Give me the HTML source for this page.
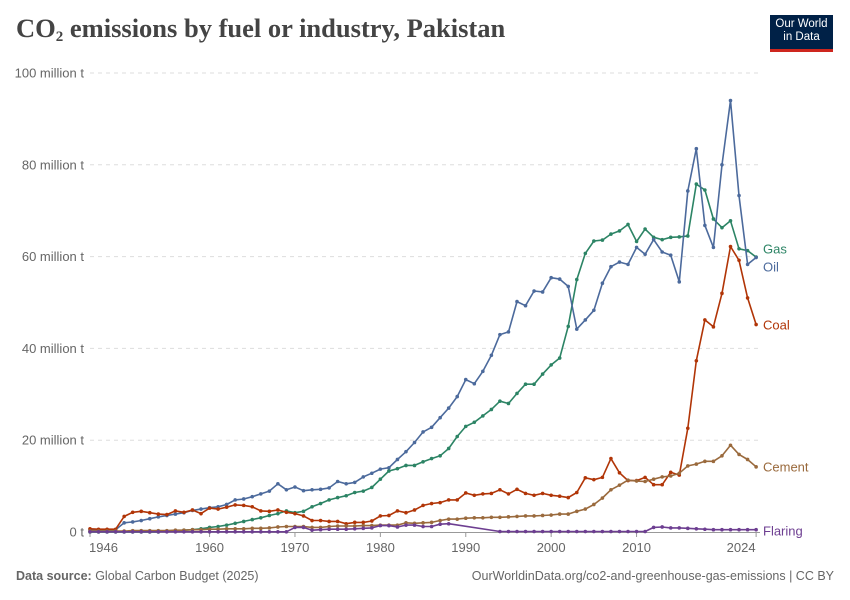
<!DOCTYPE html>
<html><head><meta charset="utf-8"><style>
body{margin:0;background:#fff;font-family:"Liberation Sans",sans-serif;}
#wrap{position:relative;width:850px;height:600px;overflow:hidden;}
</style></head><body>
<div id="wrap">
<div style="position:absolute;left:16px;top:13px;font-family:'Liberation Serif',serif;font-size:26.5px;font-weight:bold;color:#444;">CO<span style="font-size:15px;vertical-align:-4px">2</span> emissions by fuel or industry, Pakistan</div>
<div style="position:absolute;left:770px;top:15px;width:63px;height:37px;background:#002147;border-bottom:3px solid #ce261e;color:#fff;font-size:11.5px;line-height:13px;text-align:center;padding-top:3px;box-sizing:border-box;">Our World<br>in Data</div>
<svg id="chart" width="850" height="600" style="position:absolute;left:0;top:0"></svg>
<div style="position:absolute;left:16px;top:569px;font-size:12.5px;color:#666;"><b>Data source:</b> Global Carbon Budget (2025)</div>
<div style="position:absolute;right:16px;top:569px;font-size:12.5px;color:#666;">OurWorldinData.org/co2-and-greenhouse-gas-emissions | CC BY</div>
</div>
<script>
const startYear = 1946;
const xTicks = [1946, 1960, 1970, 1980, 1990, 2000, 2010, 2024];
const yTicks = [0, 20, 40, 60, 80, 100];
const yTickLabels = ["0 t", "20 million t", "40 million t", "60 million t", "80 million t", "100 million t"];
const seriesNames = ["Gas", "Oil", "Coal", "Cement", "Flaring"];
const oil = [0.5,0.5,0.5,0.5, 2.0,2.2,2.5,2.9,3.3,3.6,3.9,4.2,4.7,5.0,
 5.3,5.5,6.0,7.0,7.2,7.7,8.3,8.9,10.5,9.2,
 9.8,9.0,9.2,9.3,9.6,11.0,10.5,10.8,12.0,12.8,
 13.7,14.0,15.8,17.5,19.5,21.8,22.8,24.9,27.0,29.5,
 33.2,32.3,35.0,38.5,43.0,43.6,50.2,49.3,52.5,52.3,
 55.4,55.1,53.5,44.2,46.2,48.3,54.2,57.8,58.8,58.3,
 62.0,60.5,63.7,61.0,60.3,54.5,74.3,83.5,66.8,62.0,
 80.0,94.0,73.3,58.3,59.8];
const gas = [0,0,0,0,0,0,0,0,0,0.2,0.3,0.4,0.5,0.7,
 1.0,1.2,1.5,1.9,2.3,2.7,3.1,3.6,4.0,4.6,
 4.2,4.5,5.5,6.2,7.0,7.5,7.9,8.6,8.9,9.7,
 11.5,13.3,13.8,14.5,14.5,15.3,16.0,16.6,18.2,20.8,
 23.0,23.9,25.3,26.7,28.5,28.0,30.2,32.2,32.2,34.4,
 36.4,37.9,44.8,55.0,60.7,63.4,63.6,64.9,65.6,67.0,
 63.3,66.0,64.2,63.7,64.2,64.3,64.5,75.8,74.5,68.2,
 66.3,67.8,61.7,61.3,59.9];
const coal = [0.7,0.6,0.6,0.6, 3.4,4.3,4.5,4.2,3.9,3.8,4.6,4.3,4.8,4.0,
 5.2,5.0,5.4,5.9,5.8,5.5,4.6,4.5,4.8,4.3,
 4.0,3.5,2.5,2.5,2.3,2.3,1.8,2.1,2.1,2.4,
 3.5,3.6,4.6,4.2,4.8,5.8,6.2,6.4,7.0,7.0,
 8.5,8.0,8.3,8.4,9.2,8.3,9.3,8.4,8.0,8.4,
 8.0,7.8,7.5,8.6,11.8,11.4,11.9,16.0,12.9,11.2,
 11.2,11.9,10.3,10.3,13.0,12.4,22.6,37.3,46.2,44.7,
 52.0,62.2,59.2,51.0,45.2];
const cement = [0.2,0.2,0.2,0.2,0.2,0.3,0.3,0.3,0.3,0.3,0.4,0.4,0.5,0.5,
 0.6,0.6,0.7,0.7,0.7,0.8,0.8,0.9,1.1,1.2,
 1.2,1.2,1.0,1.0,1.2,1.3,1.3,1.3,1.4,1.4,
 1.5,1.5,1.5,2.0,1.9,2.0,2.1,2.5,2.8,2.8,
 3.0,3.1,3.1,3.2,3.2,3.3,3.4,3.5,3.5,3.6,
 3.7,3.9,3.9,4.5,5.0,6.0,7.4,9.2,10.2,11.3,
 11.1,11.0,11.5,12.0,12.2,12.8,14.4,14.8,15.4,15.4,
 16.6,18.9,16.9,15.8,14.2];
const flaring = [0.05,0.05,0.05,0.05,0.05,0.05,0.05,0.05,0.05,0.05,0.05,0.05,0.05,0.05,
 0.05,0.05,0.05,0.05,0.05,0.05,0.05,0.05,0.05,0.05,
 1.0,1.0,0.4,0.5,0.6,0.6,0.6,0.7,0.8,0.9,
 1.4,1.4,1.1,1.5,1.5,1.2,1.2,1.7,1.8,null,
 null,null,null,null,0.1,0.1,0.1,0.1,0.1,0.1,
 0.1,0.1,0.1,0.1,0.1,0.1,0.1,0.1,0.1,0.1,
 0.1,0.1,1.0,1.1,0.9,0.9,0.8,0.7,0.6,0.5,
 0.5,0.5,0.5,0.5,0.5];
const colors = ["#2c8465","#4c6a9c","#b13507","#9a6a3d","#6d3e91"];
const allSeries = [gas, oil, coal, cement, flaring];
const labelY = [249, 267, 325, 467, 531];

const NS = "http://www.w3.org/2000/svg";
const svg = document.getElementById("chart");
function x(year){ return 90 + (year - 1946) * 8.54; }
function y(v){ return 532 - v * 4.59; }
function mk(tag, attrs){ const e = document.createElementNS(NS, tag); for (const k in attrs) e.setAttribute(k, attrs[k]); svg.appendChild(e); return e; }

yTicks.forEach((t, i) => {
  if (t > 0) {
    const g = mk("line", {x1: 90, x2: 760, y1: y(t), y2: y(t), stroke: "#ddd", "stroke-dasharray": "4,4"});
    
    
  }
  const tx = mk("text", {x: 84, y: y(t) + 4.5, "text-anchor": "end", "font-size": 13, fill: "#666", "font-family": "Liberation Sans, sans-serif"});
  tx.textContent = yTickLabels[i];
  
  
});
const axis = mk("line", {x1: 90, x2: 760, y1: 532.5, y2: 532.5, stroke: "#999"});


xTicks.forEach((t, i) => {
  const tk = mk("line", {x1: x(t), x2: x(t), y1: 532, y2: 537, stroke: "#999"});
  
  
  const tx = mk("text", {x: i === 0 ? 89 : (i === xTicks.length - 1 ? x(t) - 15 : x(t)), y: 552, "text-anchor": i === 0 ? "start" : "middle", "font-size": 13, fill: "#666", "font-family": "Liberation Sans, sans-serif"});
  tx.textContent = t;
  
  
});

allSeries.forEach((data, si) => {
  let d = "", pen = false;
  data.forEach((v, i) => {
    if (v === null) return;
    d += (pen ? "L" : "M") + x(startYear + i).toFixed(1) + "," + y(v).toFixed(1);
    pen = true;
  });
  const p = mk("path", {d: d, fill: "none", stroke: colors[si], "stroke-width": 1.6, "stroke-linejoin": "round"});
  
  
  data.forEach((v, i) => {
    if (v === null) return;
    const c = mk("circle", {cx: x(startYear + i), cy: y(v), r: 1.8, fill: colors[si]});
    
    
  });
  const lb = mk("text", {x: 763, y: labelY[si] + 4.5, "font-size": 13, fill: colors[si], "font-family": "Liberation Sans, sans-serif"});
  lb.textContent = seriesNames[si];
  
  
});
</script>
</body></html>
